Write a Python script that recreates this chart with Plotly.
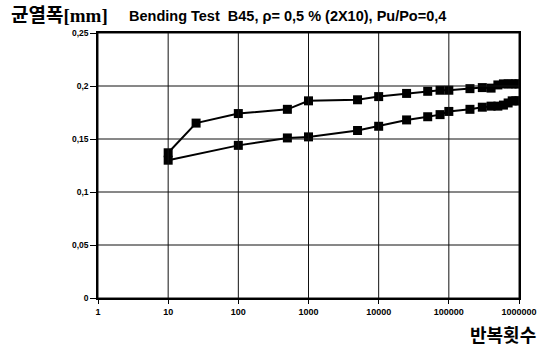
import plotly.graph_objects as go

# Data
upper_x = [10, 25, 100, 500, 1000, 5000, 10000, 25000, 50000, 75000, 100000,
           200000, 300000, 400000, 500000, 600000, 700000, 800000, 900000, 1000000]
upper_y = [0.137, 0.165, 0.174, 0.178, 0.186, 0.187, 0.190, 0.193, 0.195, 0.196, 0.196,
           0.1975, 0.1985, 0.198, 0.201, 0.202, 0.202, 0.202, 0.202, 0.202]

lower_x = [10, 100, 500, 1000, 5000, 10000, 25000, 50000, 75000, 100000,
           200000, 300000, 400000, 500000, 600000, 700000, 800000, 900000, 1000000]
lower_y = [0.130, 0.144, 0.151, 0.152, 0.158, 0.162, 0.168, 0.171, 0.173, 0.176,
           0.178, 0.180, 0.181, 0.181, 0.182, 0.184, 0.186, 0.186, 0.186]

# tick / grid positions
x_ticks = [1, 10, 100, 1000, 10000, 100000, 1000000]
y_ticks = [0, 0.05, 0.1, 0.15, 0.2, 0.25]

title_y = "균열폭[mm]"
title_main = "Bending Test  B45, ρ= 0,5 % (2X10), Pu/Po=0,4"
title_x = "반복횟수"

W, H = 547, 348
L, R, T, B = 98, 28, 33, 50
PW, PH = W - L - R, H - T - B

def px(p):
    return (p - L) / PW

def py(q):
    return (H - B - q) / PH

fig = go.Figure()
for xs, ys in [(upper_x, upper_y), (lower_x, lower_y)]:
    fig.add_trace(go.Scatter(
        x=xs, y=ys, mode="lines+markers",
        line=dict(color="black", width=2),
        marker=dict(symbol="square", size=9, color="black"),
        showlegend=False,
    ))

# grid lines drawn through the axes' own scales
for xv in x_ticks:
    fig.add_shape(type="line", xref="x", yref="paper", x0=xv, x1=xv, y0=0, y1=1,
                  line=dict(color="#111111", width=1), layer="above")
for yv in y_ticks:
    fig.add_shape(type="line", xref="paper", yref="y", x0=0, x1=1, y0=yv, y1=yv,
                  line=dict(color="#111111", width=1), layer="above")

axis_common = dict(
    showgrid=False, zeroline=False,
    showline=True, linecolor="black", linewidth=1.5, mirror=True,
    ticks="outside", tickcolor="black", tickwidth=1,
)

fig.update_layout(
    template="none",
    separators=",.",
    width=W, height=H,
    margin=dict(l=L, r=R, t=T, b=B),
    paper_bgcolor="white", plot_bgcolor="white",
    xaxis=dict(
        type="log", range=[0, 6], tickmode="array", tickvals=x_ticks,
        tickformat="d", ticklen=4,
        tickfont=dict(family="Liberation Sans, Arial", size=9, color="black", weight="bold"),
        **axis_common,
    ),
    yaxis=dict(
        range=[0, 0.25], tickmode="array", tickvals=y_ticks, ticklen=6,
        tickfont=dict(family="Liberation Sans, Arial", size=8.5, color="black", weight="bold"),
        **axis_common,
    ),
    annotations=[
        dict(text=f"<b>{title_y}</b>", xref="paper", yref="paper",
             x=px(9), y=py(15), xanchor="left", yanchor="middle", showarrow=False,
             font=dict(family="Liberation Serif, Noto Sans CJK KR", size=19, color="black")),
        dict(text=f"<b>{title_main}</b>", xref="paper", yref="paper",
             x=px(127), y=py(16), xanchor="left", yanchor="middle", showarrow=False,
             font=dict(family="Liberation Sans, Arial", size=14.5, color="black")),
        dict(text=f"<b>{title_x}</b>", xref="paper", yref="paper",
             x=px(538), y=py(334), xanchor="right", yanchor="middle", showarrow=False,
             font=dict(family="Noto Sans CJK KR", size=18, color="black")),
    ],
)

fig.write_html("out.html")
